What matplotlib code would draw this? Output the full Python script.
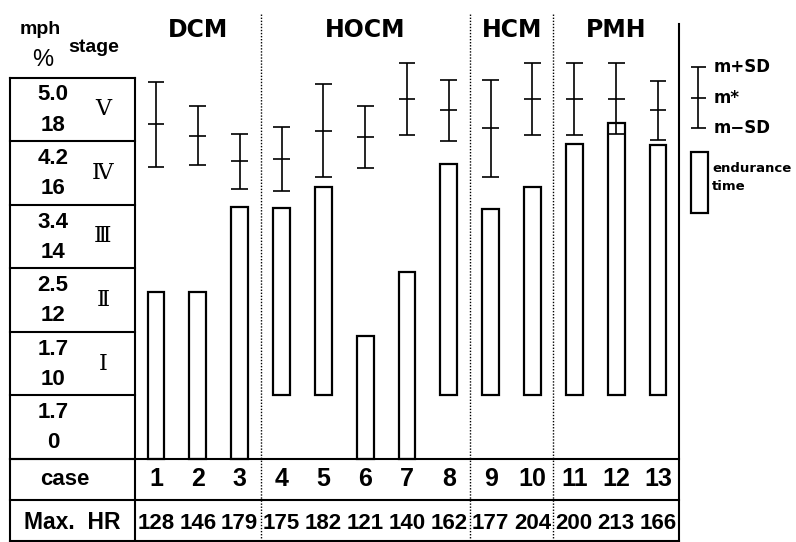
import matplotlib
matplotlib.use('Agg')
import matplotlib.pyplot as plt
import numpy as np

# cases, groups and max heart rate
cases = np.arange(1, 14)
groups = ['DCM', 'HOCM', 'HCM', 'PMH']
group_sizes = [3, 5, 2, 3]
max_hr = [128, 146, 179, 175, 182, 121, 140, 162, 177, 204, 200, 213, 166]

# endurance time (min): start and end of each bar
bar_start = [0, 0, 0, 3, 3, 0, 0, 3, 3, 3, 3, 3, 3]
bar_end = [7.9, 7.9, 11.9, 11.85, 12.85, 5.8, 8.8, 13.9, 11.8, 12.85, 14.85, 15.85, 14.8]

# predicted time m and SD
pred_mean = [15.8, 15.25, 14.05, 14.15, 15.5, 15.2, 17.0, 16.45, 15.6, 17.0, 17.0, 17.0, 16.45]
pred_sd = [2.0, 1.4, 1.3, 1.5, 2.2, 1.45, 1.7, 1.45, 2.3, 1.7, 1.7, 1.68, 1.4]

# stage table, bottom to top
stage_speed = ['1.7', '1.7', '2.5', '3.4', '4.2', '5.0']
stage_grade = ['0', '10', '12', '14', '16', '18']
stage_roman = ['', 'Ⅰ', 'Ⅱ', 'Ⅲ', 'Ⅳ', 'Ⅴ']
stage_len = 3

num_font = ['Liberation Sans', 'DejaVu Sans']
serif = ['DejaVu Serif', 'Noto Sans CJK JP']

fig = plt.figure(figsize=(7.96, 5.42), dpi=100)
ax = fig.add_axes([0, 0, 1, 1])
ax.axis('off')
ax.set_xlim(-2.73, 16.3)
ax.set_ylim(-3.92, 21.66)

lw = 1.5
top = len(stage_speed) * stage_len
left, mid, right = -2.5, 0.5, 13.5
row1, row2 = -1.95, -3.88

# table frame
ax.plot([left, left], [row2, top], color='k', lw=lw)
ax.plot([mid, mid], [row2, top], color='k', lw=lw)
ax.plot([left, mid], [top, top], color='k', lw=lw)
for k in range(len(stage_speed)):
    ax.plot([left, mid], [k * stage_len, k * stage_len], color='k', lw=lw)
for yy in [0, row1, row2]:
    ax.plot([left, right], [yy, yy], color='k', lw=lw)
ax.plot([right, right], [row2, 20.53], color='k', lw=lw)

# group separators and names
bounds = np.cumsum(group_sizes)
for b in bounds[:-1]:
    ax.plot([b + 0.5, b + 0.5], [row2, 21.0], color='k', lw=1.0, ls=(0, (1, 1.2)))
starts = np.concatenate([[0], bounds[:-1]])
for g, s, n in zip(groups, starts, group_sizes):
    ax.text(s + (n + 1) / 2, 20.25, g, ha='center', va='center',
            fontsize=17, fontweight='bold')

# header
ax.text(-1.77, 20.25, 'mph', ha='center', va='center', fontsize=14,
        fontweight='bold', family=num_font)
ax.text(-0.48, 19.44, 'stage', ha='center', va='center', fontsize=14,
        fontweight='bold', family=num_font)
ax.text(-1.70, 18.83, '%', ha='center', va='center', fontsize=17, family=num_font)

# stage rows
for k in range(len(stage_speed)):
    yc = k * stage_len + stage_len / 2
    ax.text(-1.46, yc + 0.68, stage_speed[k], ha='center', va='center',
            fontsize=16, fontweight='bold', family=num_font)
    ax.text(-1.46, yc - 0.74, stage_grade[k], ha='center', va='center',
            fontsize=16, fontweight='bold', family=num_font)
    ax.text(-0.27, yc, stage_roman[k], ha='center', va='center',
            fontsize=16, family=serif)

# endurance bars
ax.bar(cases, np.subtract(bar_end, bar_start), bottom=bar_start, width=0.4,
       fill=False, edgecolor='k', lw=1.6)

# m +- SD
m = np.array(pred_mean)
sd = np.array(pred_sd)
ax.vlines(cases, m - sd, m + sd, color='k', lw=1.2)
for yy in [m - sd, m, m + sd]:
    ax.hlines(yy, cases - 0.2, cases + 0.2, color='k', lw=1.2)

# bottom rows
ax.text(-1.18, -0.95, 'case', ha='center', va='center', fontsize=16,
        fontweight='bold', family=num_font)
ax.text(-1.0, -3.02, 'Max.  HR', ha='center', va='center', fontsize=16.5,
        fontweight='bold', family=num_font)
for c, h in zip(cases, max_hr):
    ax.text(c, -0.95, str(c), ha='center', va='center', fontsize=18,
            fontweight='bold', family=num_font)
    ax.text(c, -3.05, str(h), ha='center', va='center', fontsize=16,
            fontweight='bold', family=num_font)

# legend
lx = 13.96
ax.vlines(lx, 15.62, 18.5, color='k', lw=1.2)
ax.hlines([15.62, 17.04, 18.5], lx - 0.17, lx + 0.2, color='k', lw=1.2)
ax.text(14.32, 18.5, 'm+SD', ha='left', va='center', fontsize=12, fontweight='bold')
ax.text(14.32, 17.04, 'm*', ha='left', va='center', fontsize=12, fontweight='bold')
ax.text(14.32, 15.62, 'm\u2212SD', ha='left', va='center', fontsize=12, fontweight='bold')
ax.bar([14.0], [2.88], bottom=[11.61], width=0.41, fill=False, edgecolor='k', lw=1.6)
ax.text(14.29, 13.73, 'endurance', ha='left', va='center', fontsize=9.5, fontweight='bold')
ax.text(14.29, 12.84, 'time', ha='left', va='center', fontsize=9.5, fontweight='bold')

fig.savefig('out.png', dpi=100)
